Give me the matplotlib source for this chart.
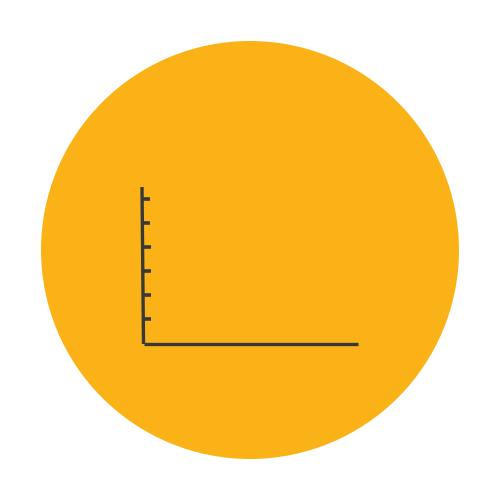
import matplotlib
matplotlib.use("Agg")
import matplotlib.pyplot as plt
from matplotlib.patches import Circle

# icon geometry (pixel coordinates, y grows downward)
circle_center = (250, 250)
circle_radius = 209
y_axis_x = [142, 143.5]
y_axis_y = [187, 344]
x_axis_x = [143.5, 358]
x_axis_y = [344, 344]
tick_ys = [199, 223, 247, 271, 295, 319]
tick_len = 8

bg_color = "#FBB217"
line_color = "#383838"

fig = plt.figure(figsize=(5, 5), dpi=100)
ax = fig.add_axes([0, 0, 1, 1])
ax.set_xlim(0, 500)
ax.set_ylim(500, 0)
ax.axis("off")

ax.add_patch(Circle(circle_center, circle_radius, color=bg_color, lw=0))

ax.plot(y_axis_x, y_axis_y, color=line_color, lw=2.4, solid_capstyle="butt")
ax.plot(x_axis_x, x_axis_y, color=line_color, lw=2.4, solid_capstyle="butt")
for ty in tick_ys:
    # axis leans slightly, start tick at the axis position
    x0 = y_axis_x[0] + (y_axis_x[1] - y_axis_x[0]) * (ty - y_axis_y[0]) / (y_axis_y[1] - y_axis_y[0])
    ax.plot([x0, x0 + tick_len], [ty, ty], color=line_color, lw=2.6, solid_capstyle="butt")

fig.savefig("out.png", dpi=100, facecolor="white")
